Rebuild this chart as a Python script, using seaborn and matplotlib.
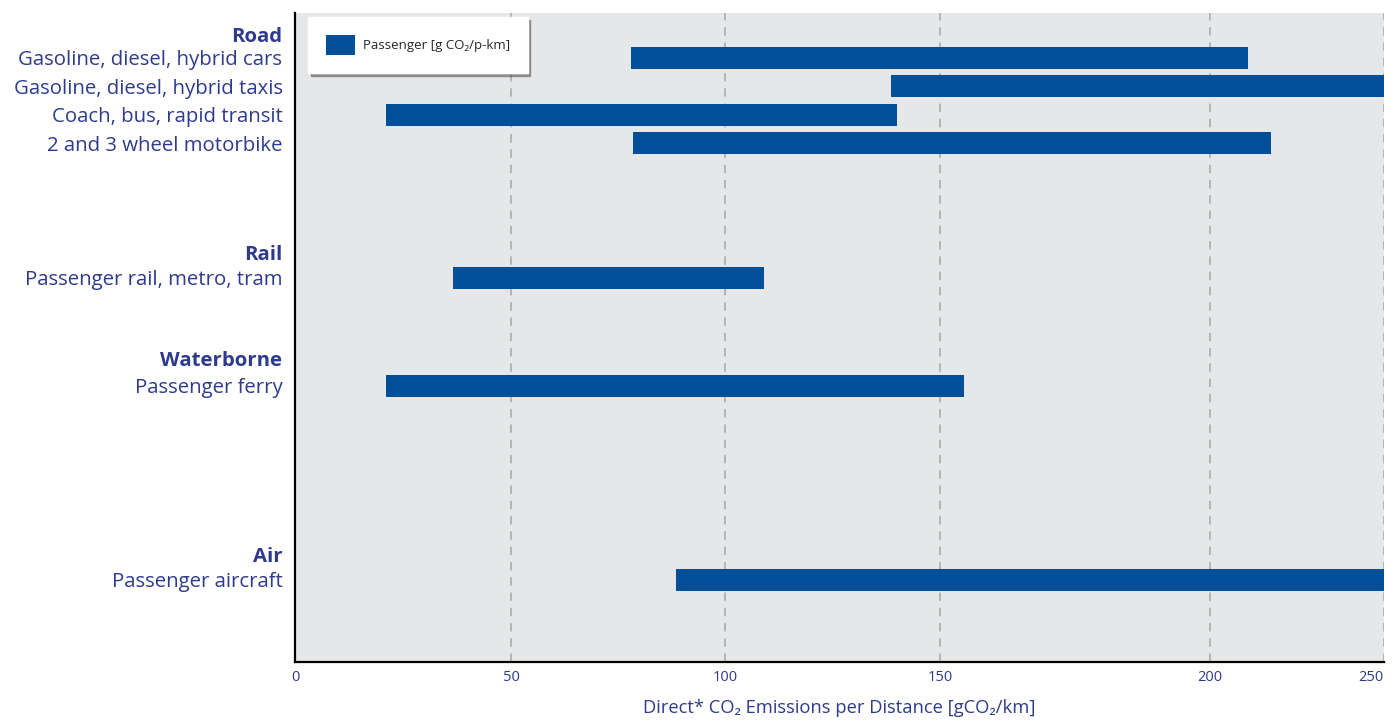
import numpy as np
import pandas as pd
import matplotlib
matplotlib.use('Agg')
import matplotlib.pyplot as plt
import seaborn as sns

# data
groups = ["Road", "Rail", "Waterborne", "Air"]
modes = [
    ["Gasoline, diesel, hybrid cars",
     "Gasoline, diesel, hybrid taxis",
     "Coach, bus, rapid transit",
     "2 and 3 wheel motorbike"],
    ["Passenger rail, metro, tram"],
    ["Passenger ferry"],
    ["Passenger aircraft"],
]
low = [78, 138.5, 21, 78.5, 36.5, 21, 88.5]
high = [211, 260, 140, 217.5, 109, 154.5, 260]
tick_values = [0, 50, 100, 150, 200, 250]
series_label = "Passenger [g CO\u2082/p-km]"
x_label = "Direct* CO\u2082 Emissions per Distance [gCO\u2082/km]"

# layout (axis units = pixels from the top of the plot area)
ROW = 28.4
GROUP_FIRST = [45, 265, 373, 567]
HEADER_GAP = [23, 26, 28, 26]
TICK_PX = [0, 216, 430, 645, 915, 1088.5]
BAR = "#004f99"
TEXT = "#2e3b8c"
BG = "#e6e7e9"

tv = np.array(tick_values, float)
tp = np.array(TICK_PX, float)


def _piecewise(v, src, dst):
    v = np.asarray(v, float)
    out = np.interp(v, src, dst)
    hi = (dst[-1] - dst[-2]) / (src[-1] - src[-2])
    lo = (dst[1] - dst[0]) / (src[1] - src[0])
    out = np.where(v > src[-1], dst[-1] + (v - src[-1]) * hi, out)
    out = np.where(v < src[0], dst[0] + (v - src[0]) * lo, out)
    return out


def fwd(v):
    return _piecewise(v, tv, tp)


def inv(p):
    return _piecewise(p, tp, tv)


rows = []
header_pos = []
k = 0
for g, first, gap, items in zip(groups, GROUP_FIRST, HEADER_GAP, modes):
    header_pos.append(first - gap)
    for i, m in enumerate(items):
        rows.append(dict(group=g, mode=m, pos=first + i * ROW, low=low[k], high=high[k]))
        k += 1
df = pd.DataFrame(rows).sort_values("pos").reset_index(drop=True)
df["span"] = df["high"] - df["low"]

sns.set_theme(style="white")
plt.rcParams['font.family'] = ['Open Sans', 'DejaVu Sans']

fig = plt.figure(figsize=(13.95, 7.22), dpi=100)
ax = fig.add_axes([295 / 1395, 60 / 722, 1088.5 / 1395, 649 / 722])
ax.set_facecolor(BG)

sns.barplot(data=df, x="span", y="pos", orient="y", native_scale=True,
            width=22 / ROW, color=BAR, saturation=1, errorbar=None,
            left=df["low"].to_numpy(), linewidth=0, label=series_label, ax=ax)

ax.set_xscale("function", functions=(fwd, inv))
ax.set_xlim(0, 250)
ax.set_ylim(649, 0)

# axis ticks
ax.set_xticks(tick_values)
ax.set_xticklabels([str(t) for t in tick_values])
ax.get_xticklabels()[-1].set_horizontalalignment("right")
ax.tick_params(axis="x", length=0, pad=6, labelsize=10.5, labelcolor=TEXT)

ypos = list(df["pos"]) + header_pos
ylab = list(df["mode"]) + groups
ax.set_yticks(ypos)
ax.set_yticklabels(ylab)
ax.tick_params(axis="y", length=0, pad=9, labelsize=14.7, labelcolor=TEXT)
for t in ax.get_yticklabels():
    if t.get_text() in groups:
        t.set_fontweight("bold")

ax.set_ylabel("")
ax.set_xlabel(x_label, fontsize=13.2, color=TEXT, labelpad=10)

ax.grid(axis="x", color="#a6a6a6", linestyle=(0, (5.5, 4.5)), linewidth=1.1)
ax.grid(axis="y", visible=False)
ax.set_axisbelow(True)

sns.despine(ax=ax, top=True, right=True)
for s in ["left", "bottom"]:
    ax.spines[s].set_color("black")
    ax.spines[s].set_linewidth(1.6)

leg = ax.legend(loc="upper left", bbox_to_anchor=(13 / 1088.5, 1 - 4 / 649),
                borderaxespad=0, fontsize=9.5, frameon=True, fancybox=False,
                shadow=True, handlelength=2.2, handleheight=2.0,
                handletextpad=0.6, borderpad=1.35)
leg.get_frame().set_facecolor("white")
leg.get_frame().set_edgecolor("white")
leg.get_frame().set_alpha(1)

fig.savefig("out.png", dpi=100)
